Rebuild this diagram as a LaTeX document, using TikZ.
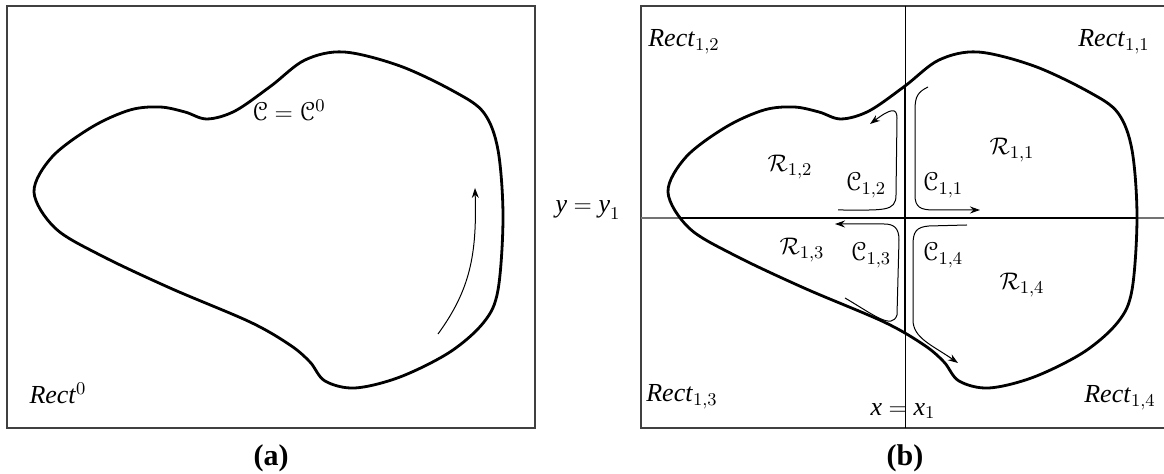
\documentclass[tikz,border=0pt]{standalone}
\usepackage{amsmath}
\usepackage[mathscr]{eucal}
\usepackage{fontspec}
\setmainfont{Liberation Serif}
\usetikzlibrary{arrows.meta}

% closed boundary curve, drawn in the coordinates of panel (a)
\newcommand{\blobcurve}[1]{%
  \path[#1] plot[smooth cycle, tension=0.55] coordinates {
    (34,192) (52,157) (92,127) (130,110) (160,107) (185,112) (207,119)
    (235,111) (271,86) (305,60) (344,52) (400,66) (455,92) (484,113)
    (498,150) (503,217) (498,290) (484,322) (450,352) (400,377)
    (355,388) (325,381) (310,362) (290,345) (250,322) (170,288)
    (100,255) (55,228)};}

\begin{document}
\begin{tikzpicture}[x=0.5pt, y=-0.5pt, font=\fontsize{13}{15}\selectfont,
    frame/.style={draw=black!75, line width=0.75pt},
    curve/.style={draw, line width=1.4pt},
    flow/.style={draw, line width=0.5pt, -{Stealth[length=5pt,width=3.5pt]}},
    panellabel/.style={font=\fontsize{15}{17}\selectfont\bfseries}]
    \useasboundingbox (0,0) rectangle (1164,474);
    \clip (0,0) rectangle (1164,474);

    % (a) bounding rectangle, curve, orientation
    \draw[frame] (7,6) rectangle (535,428);
    \blobcurve{curve}
    \draw[flow] (438,334) .. controls (470,290) and (477,255) .. (475,188);
    \node (ca) at (289,110) {$\mathscr{C}=\mathscr{C}^0$};
    \node (recta) at (58,393) {\textit{Rect}$^0$};
    \node[panellabel] (capa) at (271,458) {(a)};

    % y = y_1 label between the panels
    \node (ylab) at (588,210) {$\textit{y}=\textit{y}_1$};

    % (b) split at x = x_1 and y = y_1
    \begin{scope}[shift={(634,0)}]
        \draw[frame] (7,6) rectangle (535,428);
        \draw[black!55, line width=0.6pt] (7,218) -- (535,218);
        \draw[line width=0.5pt] (271,6) -- (271,428);
        % cut lines inside the curve are heavier
        \begin{scope}
            \blobcurve{clip}
            \draw[line width=1.4pt] (7,218) -- (535,218);
            \draw[line width=1pt] (271,6) -- (271,428);
        \end{scope}
        \blobcurve{curve}
        % orientation of the four pieces
        \draw[flow] (204,210) .. controls (250,210) and (262,212) .. (262,195)
            -- (263,118) .. controls (263,107) and (256,109) .. (236,124);
        \draw[flow] (294,87) .. controls (284,92) and (281,96) .. (281,110)
            -- (281,195) .. controls (281,207) and (286,210) .. (300,210) -- (346,210);
        \draw[flow] (211,298) .. controls (240,315) and (258,330) .. (263,315)
            -- (265,240) .. controls (265,228) and (260,224) .. (250,224) -- (201,224);
        \draw[flow] (333,225) -- (295,226) .. controls (282,227) and (279,232) .. (279,245)
            -- (279,320) .. controls (279,338) and (298,345) .. (324,363);
        % labels
        \foreach \i/\px/\py in {1/480/42, 2/50/42, 3/48/397, 4/486/398}
            \node (rect\i) at (\px,\py) {\textit{Rect}$_{1,\i}$};
        \foreach \i/\px/\py in {1/378/150, 2/156/167, 3/168/250, 4/388/285}
            \node (reg\i) at (\px,\py) {$\mathcal{R}_{1,\i}$};
        \foreach \i/\px/\py in {1/309/185, 2/232/185, 3/237/255, 4/309/255}
            \node (cc\i) at (\px,\py) {$\mathscr{C}_{1,\i}$};
        \node (xlab) at (269,411) {$\textit{x}=\textit{x}_1$};
        \node[panellabel] (capb) at (271,458) {(b)};
    \end{scope}
\end{tikzpicture}
\end{document}
